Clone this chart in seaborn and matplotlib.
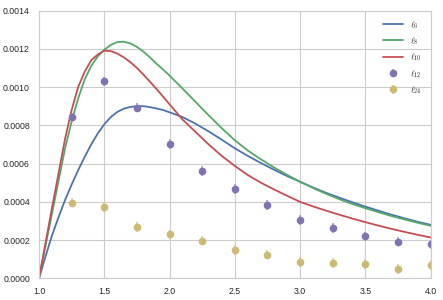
import matplotlib
matplotlib.use('Agg')
import matplotlib.pyplot as plt
import seaborn as sns

# sample positions (finer near the peaks)
x = [1.0, 1.05, 1.1, 1.15, 1.2, 1.25, 1.3, 1.35, 1.4, 1.45, 1.5, 1.55, 1.6, 1.65,
     1.7, 1.75, 1.8, 1.85, 1.9, 1.95, 2.0, 2.1, 2.2, 2.3, 2.4, 2.5, 2.6, 2.7, 2.8,
     2.9, 3.0, 3.1, 3.2, 3.3, 3.4, 3.5, 3.6, 3.7, 3.8, 3.9, 4.0]

l6 = [0.0, 0.000115, 0.000225, 0.00032, 0.00041, 0.00049, 0.000565, 0.000635,
      0.0007, 0.000757, 0.000805, 0.000843, 0.00087, 0.000887, 0.000896, 0.0009,
      0.0009, 0.000895, 0.000888, 0.00088, 0.000868, 0.000843, 0.000808,
      0.000768, 0.000725, 0.00068, 0.00064, 0.000603, 0.000568, 0.000535,
      0.000505, 0.000475, 0.000447, 0.000422, 0.000398, 0.000375, 0.000354,
      0.000333, 0.000314, 0.000296, 0.00028]

l8 = [0.0, 0.00017, 0.00034, 0.00051, 0.00068, 0.00082, 0.00094, 0.00104, 0.00111,
      0.00116, 0.001195, 0.00122, 0.001235, 0.001237, 0.001228, 0.00121,
      0.001185, 0.001155, 0.001122, 0.001092, 0.00106, 0.000992, 0.000922,
      0.000852, 0.000785, 0.000722, 0.000668, 0.000622, 0.00058, 0.000541,
      0.000505, 0.000472, 0.000442, 0.000414, 0.000389, 0.000367, 0.000346,
      0.000326, 0.000308, 0.000291, 0.000275]

l10 = [0.0, 0.000185, 0.00037, 0.00055, 0.00073, 0.00088, 0.001, 0.00108, 0.00114,
       0.00117, 0.00119, 0.001188, 0.001175, 0.001155, 0.00113, 0.0011, 0.001065,
       0.001028, 0.00099, 0.00095, 0.00091, 0.00083, 0.000765, 0.0007, 0.00064,
       0.000588, 0.00054, 0.0005, 0.000465, 0.000432, 0.0004, 0.000376, 0.000354,
       0.000333, 0.000313, 0.000294, 0.000276, 0.000259, 0.000243, 0.000228,
       0.000214]

# measured points
xp = [1.25, 1.5, 1.75, 2.0, 2.25, 2.5, 2.75, 3.0, 3.25, 3.5, 3.75, 4.0]
l12 = [0.000841, 0.001029, 0.000893, 0.000703, 0.00056, 0.000466, 0.000385,
       0.000304, 0.000262, 0.00022, 0.000192, 0.000178]
l24 = [0.000396, 0.000372, 0.00027, 0.00023, 0.000197, 0.000148, 0.000124,
       0.0000853, 0.0000817, 0.000075, 0.00005, 0.000071]
err = 0.000025

sns.set_style('whitegrid')
plt.rcParams['font.family'] = ['Liberation Sans', 'DejaVu Sans']
plt.rcParams['mathtext.fontset'] = 'cm'

fig = plt.figure(figsize=(4.43, 3.0), dpi=100)
ax = fig.add_axes([0.088, 0.072, 0.884, 0.893])

sns.lineplot(x=x, y=l6, color='#4C72B0', lw=1.3, label=r'$\ell_6$', ax=ax)
sns.lineplot(x=x, y=l8, color='#55A868', lw=1.3, label=r'$\ell_8$', ax=ax)
sns.lineplot(x=x, y=l10, color='#C44E52', lw=1.3, label=r'$\ell_{10}$', ax=ax)
ax.errorbar(xp, l12, yerr=err, fmt='o', color='#8172B2', ms=4.5,
            ecolor='#a79cc9', elinewidth=1.2, label=r'$\ell_{12}$')
ax.errorbar(xp, l24, yerr=err, fmt='o', color='#CCB974', ms=4.5,
            ecolor='#dccd95', elinewidth=1.2, label=r'$\ell_{24}$')

ax.set_xlim(1.0, 4.0)
ax.set_ylim(0, 0.0014)
ax.set_xticks([1.0, 1.5, 2.0, 2.5, 3.0, 3.5, 4.0])
ax.set_yticks([0, 0.0002, 0.0004, 0.0006, 0.0008, 0.001, 0.0012, 0.0014])
ax.set_yticklabels(['%.4f' % v for v in ax.get_yticks()])
ax.tick_params(labelsize=6.3, pad=3)

ax.legend(loc='upper right', frameon=False, fontsize=6.3, handlelength=2.3,
          labelspacing=0.55, borderaxespad=0.6)

fig.savefig('out.png', dpi=100)
